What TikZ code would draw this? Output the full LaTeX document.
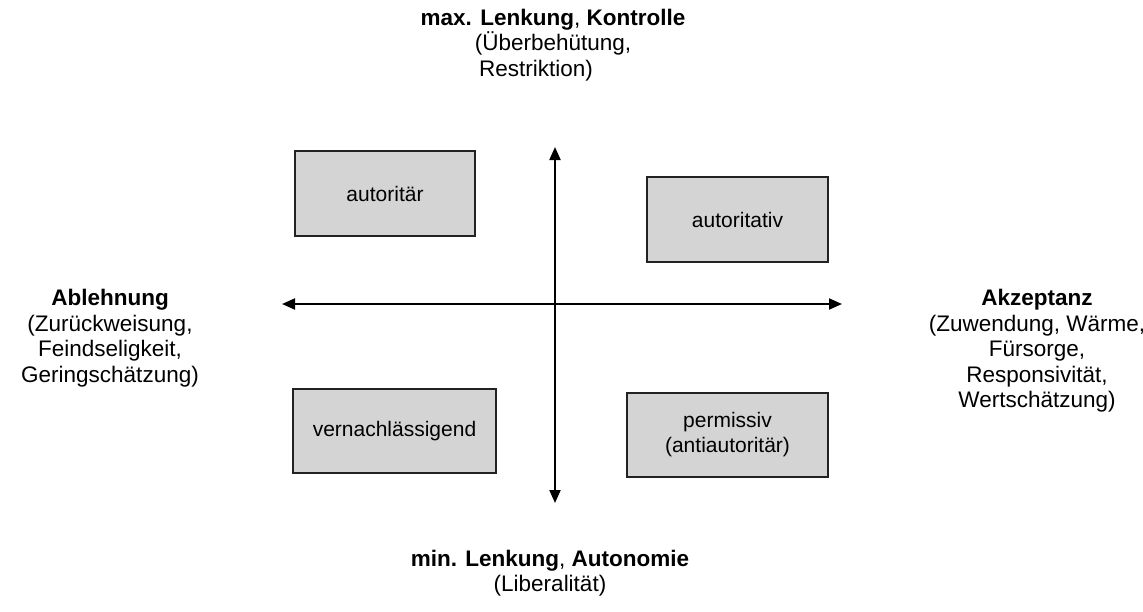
\documentclass[tikz,border=0pt]{standalone}
\usepackage{fontspec}
\setmainfont{Liberation Sans}
\usetikzlibrary{arrows.meta}
\definecolor{boxgray}{HTML}{D4D4D4}
\definecolor{edgegray}{HTML}{222222}
\begin{document}
\begin{tikzpicture}[x=1pt,y=-1pt,
  quad/.style={draw=edgegray,line width=1.3pt,fill=boxgray,inner sep=0pt,align=center,
    font=\fontsize{21}{25}\selectfont},
  axis/.style={line width=2pt,{Triangle[length=13pt,width=11pt]}-{Triangle[length=13pt,width=11pt]}},
  lab/.style={inner sep=0pt,align=center,font=\fontsize{22.5}{25.5}\selectfont}]
\useasboundingbox (0,0) rectangle (1143,611);
% axes
\coordinate (top) at (555,147);
\coordinate (bot) at (555,503);
\coordinate (lft) at (282,304);
\coordinate (rgt) at (842,304);
\draw[axis] (top) -- (bot);
\draw[axis] (lft) -- (rgt);
% boxes
\node[quad,minimum width=180pt,minimum height=85pt] (autoritaer) at (385,193.5) {autoritär};
\node[quad,minimum width=181pt,minimum height=85pt] (autoritativ) at (737.5,219.5) {autoritativ};
\node[quad,minimum width=203pt,minimum height=84pt] (vernach) at (394.5,431) {vernachlässigend};
\node[quad,minimum width=201pt,minimum height=84pt] (permissiv) at (727.5,435) {permissiv\\(antiautoritär)};
% labels
\node[lab] (toplab) at (553,45) {\textbf{max. Lenkung}, \textbf{Kontrolle}\\(Überbehütung,\hspace*{12pt}\\Restriktion)\hspace*{34pt}};
\node[lab] (leftlab) at (110,338) {\textbf{Ablehnung}\\(Zurückweisung,\\Feindseligkeit,\\Geringschätzung)};
\node[lab] (rightlab) at (1037,351) {\textbf{Akzeptanz}\\(Zuwendung, Wärme,\\Fürsorge,\\Responsivität,\\Wertschätzung)};
\node[lab] (botlab) at (550,573) {\textbf{min. Lenkung}, \textbf{Autonomie}\\(Liberalität)};
\end{tikzpicture}
\end{document}
